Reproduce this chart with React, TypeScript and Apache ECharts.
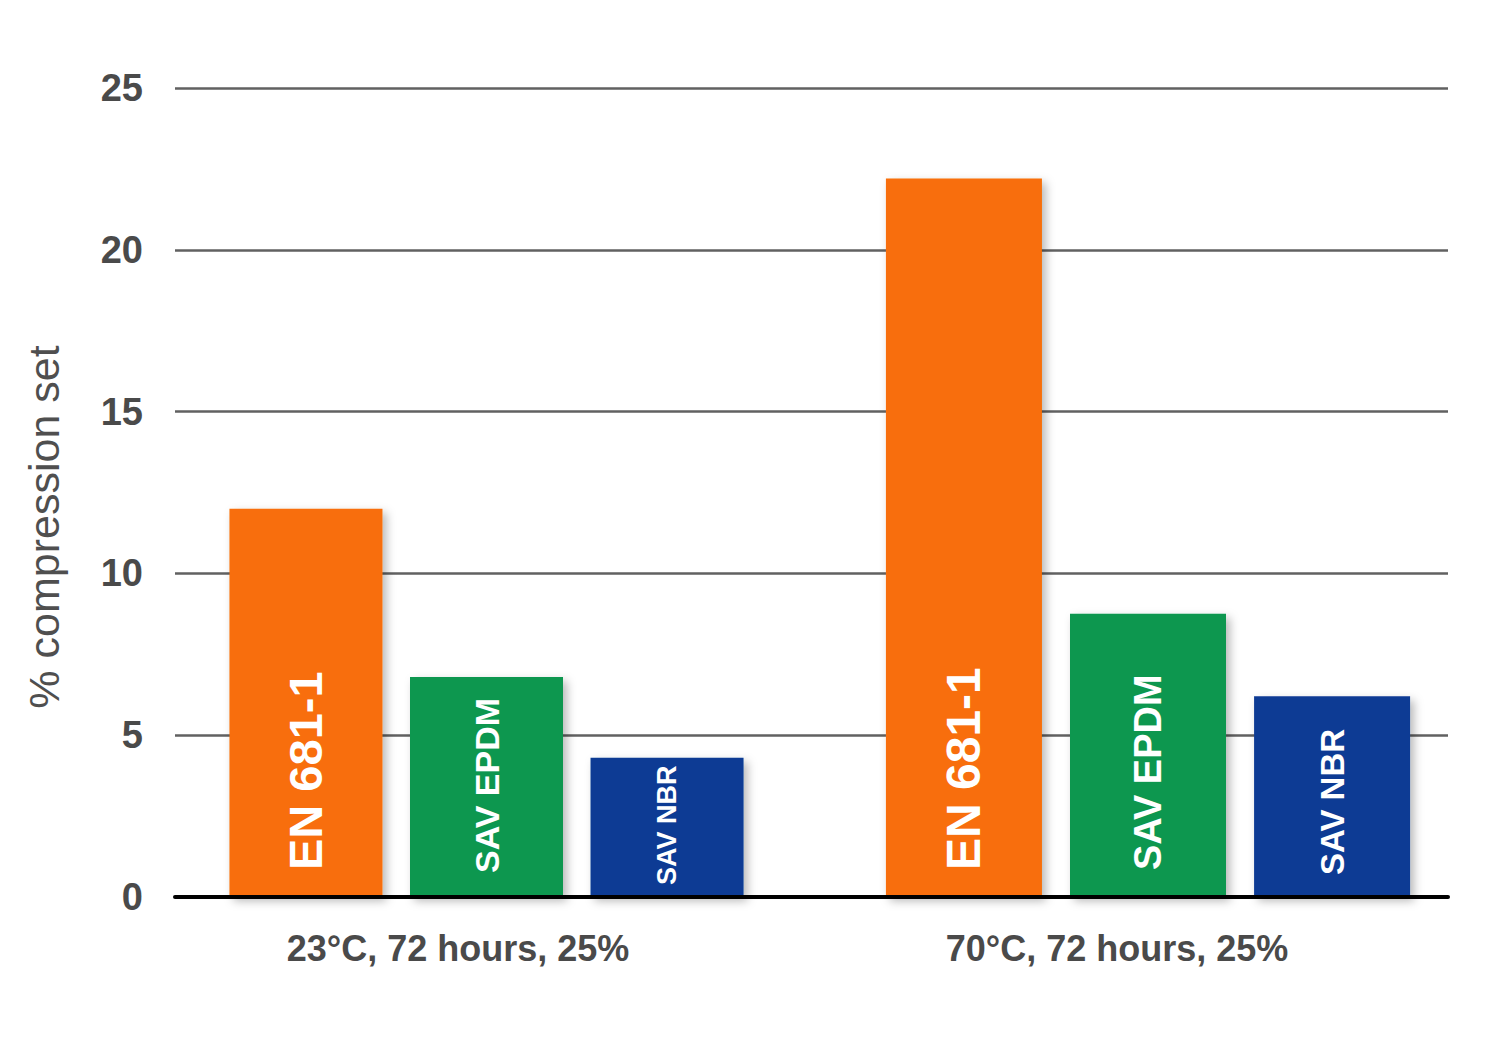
import React, { useEffect, useRef } from "react";
import * as echarts from "echarts";

const categories = ["23°C, 72 hours, 25%", "70°C, 72 hours, 25%"];
const materials = ["EN 681-1", "SAV EPDM", "SAV NBR"];
const en681 = [12.0, 22.2];
const savEpdm = [6.8, 8.75];
const savNbr = [4.3, 6.2];
const yTicks = [0, 5, 10, 15, 20, 25];
const yTitle = "% compression set";

const seriesValues = [en681, savEpdm, savNbr];
const colors = ["#F86E07", "#0E974F", "#0A3B94"];
// per group label font size and distance from bar bottom
const labelSizes = [
  [47, 34, 27],
  [48, 38, 33],
];
const labelDist = [
  [27, 24, 12],
  [27, 27, 22],
];
const barWidths = [153, 156];
const groupLeft = [186.5, 848];

const SANS = "'Liberation Sans', Arial, sans-serif";

export default function App() {
  const ref = useRef<HTMLDivElement>(null);
  useEffect(() => {
    if (!ref.current) return;
    const chart = echarts.init(ref.current, undefined, { renderer: "svg" });
    const top = 88;
    const height = 809;
    const grids: any[] = [
      { left: 175, width: 1273, top, height },
      { left: 128.5, width: 1318, top, height },
      { left: groupLeft[0], width: 600, top, height },
      { left: groupLeft[1], width: 600, top, height },
    ];
    const xAxes: any[] = [
      {
        gridIndex: 0,
        type: "category",
        data: categories,
        z: 5,
        axisLine: { show: true, lineStyle: { color: "#000", width: 4 } },
        axisTick: { show: false },
        axisLabel: { show: false },
      },
      {
        gridIndex: 1,
        type: "category",
        data: categories,
        axisLine: { show: false },
        axisTick: { show: false },
        axisLabel: {
          show: true,
          margin: 33,
          fontSize: 36,
          fontWeight: "bold",
          fontFamily: SANS,
          color: "#4a4a4a",
        },
      },
      { gridIndex: 2, type: "category", data: [categories[0]], show: false },
      { gridIndex: 3, type: "category", data: [categories[1]], show: false },
    ];
    const yBase = { type: "value", min: 0, max: 25, interval: 5 };
    const yAxes: any[] = [
      {
        ...yBase,
        gridIndex: 0,
        axisLine: { show: false },
        axisTick: { show: false },
        axisLabel: {
          margin: 32,
          fontSize: 38,
          fontWeight: "bold",
          fontFamily: SANS,
          color: "#4a4a4a",
          customValues: yTicks,
        },
        splitLine: { show: true, lineStyle: { color: "#616161", width: 2.5 } },
      },
      { ...yBase, gridIndex: 1, show: false, splitLine: { show: false } },
      { ...yBase, gridIndex: 2, show: false, splitLine: { show: false } },
      { ...yBase, gridIndex: 3, show: false, splitLine: { show: false } },
    ];
    const series: any[] = [];
    for (let g = 0; g < 2; g++) {
      materials.forEach((name, m) => {
        series.push({
          type: "bar",
          name,
          xAxisIndex: g + 2,
          yAxisIndex: g + 2,
          data: [seriesValues[m][g]],
          barWidth: barWidths[g],
          barGap: "18%",
          itemStyle: {
            color: colors[m],
            shadowBlur: 10,
            shadowColor: "rgba(0,0,0,0.28)",
            shadowOffsetX: 4,
            shadowOffsetY: 4,
          },
          label: {
            show: true,
            formatter: name,
            position: "insideBottom",
            rotate: 90,
            align: "left",
            verticalAlign: "middle",
            distance: labelDist[g][m],
            color: "#ffffff",
            fontWeight: "bold",
            fontFamily: SANS,
            fontSize: labelSizes[g][m],
          },
        });
      });
    }
    chart.setOption({
      animation: false,
      backgroundColor: "#ffffff",
      grid: grids,
      xAxis: xAxes,
      yAxis: yAxes,
      series,
      graphic: [
        {
          type: "text",
          x: 44,
          y: 527,
          rotation: Math.PI / 2,
          style: {
            text: yTitle,
            align: "center",
            verticalAlign: "middle",
            fontSize: 43,
            fontFamily: SANS,
            fill: "#4f4f4f",
          },
        },
      ],
    });
    return () => chart.dispose();
  }, []);
  return (
    <div
      ref={ref}
      style={{ position: "fixed", left: 0, top: 0, width: 1507, height: 1044 }}
    />
  );
}
